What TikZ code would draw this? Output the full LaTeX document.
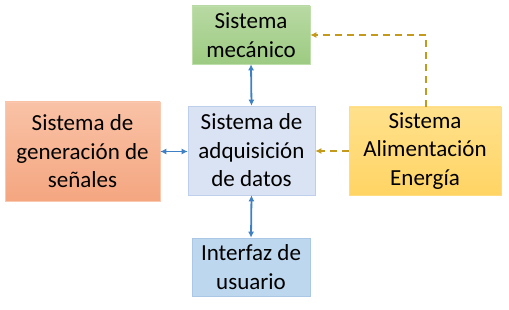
\documentclass[tikz,border=0pt]{standalone}
\usepackage{fontspec}
\setmainfont{Carlito}
\usetikzlibrary{arrows.meta}
\definecolor{arrblue}{HTML}{3F7FC4}
\definecolor{gold}{HTML}{C49A1C}
\definecolor{gtop}{RGB}{184,217,163}
\definecolor{gbot}{RGB}{157,203,130}
\definecolor{gdraw}{RGB}{190,222,170}
\definecolor{cfill}{RGB}{218,227,243}
\definecolor{cdraw}{RGB}{190,207,235}
\definecolor{otop}{RGB}{249,194,166}
\definecolor{obot}{RGB}{244,166,128}
\definecolor{odraw}{RGB}{250,200,175}
\definecolor{ytop}{RGB}{255,225,140}
\definecolor{ybot}{RGB}{255,212,100}
\definecolor{ydraw}{RGB}{255,220,130}
\definecolor{bfill}{RGB}{189,215,238}
\definecolor{bdraw}{RGB}{170,200,230}
\tikzset{
  box/.style={rectangle, align=center, font=\fontsize{23}{28.5}\selectfont, inner sep=0pt, line width=0.6pt},
  bi/.style={arrblue, line width=1.8pt, {Latex[length=6pt,width=6pt]}-{Latex[length=6pt,width=6pt]}},
  dash1/.style={gold, line width=1.8pt, dash pattern=on 7pt off 5pt, -{Latex[length=6pt,width=6pt]}}
}
\begin{document}
\begin{tikzpicture}[x=1pt,y=-1pt]
\useasboundingbox (0,0) rectangle (509,310);
\node[box, minimum width=118pt, minimum height=58pt, top color=gtop, bottom color=gbot, draw=gdraw] (mec) at (251,35) {Sistema\\mecánico};
\node[box, minimum width=127pt, minimum height=89pt, fill=cfill, draw=cdraw] (adq) at (251.5,150.5) {Sistema de\\adquisición\\de datos};
\node[box, minimum width=155pt, minimum height=99pt, top color=otop, bottom color=obot, draw=odraw] (gen) at (82.5,151.5) {Sistema de\\generación de\\señales};
\node[box, minimum width=152pt, minimum height=88pt, top color=ytop, bottom color=ybot, draw=ydraw] (ali) at (425,151) {Sistema\\Alimentación\\Energía};
\node[box, minimum width=118pt, minimum height=58pt, fill=bfill, draw=bdraw] (ui) at (251,267) {Interfaz de\\usuario};
\coordinate (corner) at (426,35);
\draw[bi] (mec.south) -- (adq.north);
\draw[bi] (adq.south) -- (ui.north);
\draw[bi] (gen.east) -- (adq.west |- gen.east);
\draw[dash1] (ali.west) -- (adq.east |- ali.west);
\draw[dash1] (ali.north -| corner) -- (corner) -- (mec.east);
\end{tikzpicture}
\end{document}
